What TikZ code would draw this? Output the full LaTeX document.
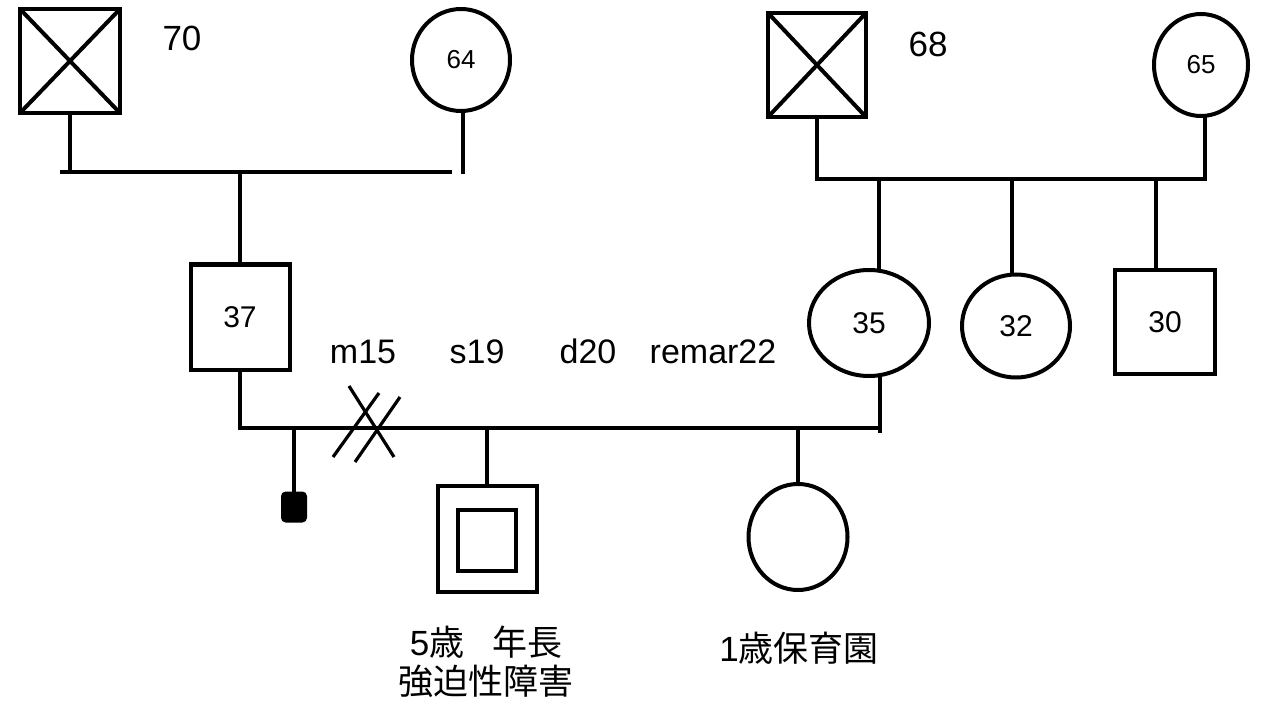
\documentclass[tikz,border=0pt]{standalone}
\usepackage{fontspec}
\setmainfont{Liberation Sans}
\newfontfamily\cjk{Noto Sans CJK JP}
\usetikzlibrary{positioning,calc,shapes.geometric}

\begin{document}
\begin{tikzpicture}[x=1pt, y=-1pt, line width=4pt, every node/.style={font=\fontsize{30}{34}\selectfont}]
  \tikzstyle{male}=[draw, rectangle, inner sep=0pt, outer sep=0pt]
  \tikzstyle{female}=[draw, ellipse, inner sep=0pt, outer sep=0pt]
  \tikzstyle{age}=[font=\fontsize{35}{40}\selectfont]
  \tikzstyle{event}=[font=\fontsize{34}{38}\selectfont, anchor=base]
  \tikzstyle{note}=[font=\fontsize{35}{39}\selectfont, align=center]
  \useasboundingbox (0,0) rectangle (1268,711);
  % father's parents
  \node[male, minimum width=100pt, minimum height=104pt] (gfa) at (70,61) {};
  \draw (gfa.north west) -- (gfa.south east) (gfa.north east) -- (gfa.south west);
  \node[age] (agefa) at (182,38) {70};
  \node[female, minimum width=98pt, minimum height=102pt, font=\fontsize{26}{30}\selectfont] (gma) at (461,60) {64};
  \coordinate (mla) at (60,172);
  \coordinate (mra) at (452,172);
  \draw (mla) -- (mra);
  \draw (gfa.south) -- (gfa.south |- mla);
  \draw ($(gma.south)+(2,0)$) -- ($(gma.south |- mra)+(2,2)$);
  % mother's parents
  \node[male, minimum width=98pt, minimum height=104pt] (gfb) at (817,65) {};
  \draw (gfb.north west) -- (gfb.south east) (gfb.north east) -- (gfb.south west);
  \node[age] (agefb) at (928,44) {68};
  \node[female, minimum width=94pt, minimum height=102pt, font=\fontsize{26}{30}\selectfont] (gmb) at (1201,65) {65};
  \coordinate (mlb) at (817,179);
  \coordinate (mrb) at (1205,179);
  \draw (gfb.south) -- (mlb) -- (mrb) -- (mrb |- gmb.south);
  % parents generation
  \node[male, minimum width=99pt, minimum height=105pt] (father) at (240,317) {37};
  \node[female, minimum width=120pt, minimum height=106pt] (mother) at (869,323) {35};
  \node[female, minimum width=108pt, minimum height=103pt] (aunt) at (1016,326) {32};
  \node[male, minimum width=100pt, minimum height=104pt] (uncle) at (1165,322) {30};
  \draw (father.north |- mla) -- (father.north);
  \coordinate (cb1) at (879,179);
  \coordinate (cb2) at (1012,179);
  \coordinate (cb3) at (1156,179);
  \draw (cb1) -- (cb1 |- mother.north);
  \draw (cb2) -- (cb2 |- aunt.north);
  \draw (cb3) -- (cb3 |- uncle.north);
  % marriage line and events
  \coordinate (mlc) at (240,428);
  \coordinate (mrc) at (880,428);
  \draw (father.south) -- (mlc) -- (mrc);
  \draw (mrc |- mother.south) -- ($(mrc)+(0,5)$);
  \node[event] (ev1) at (363,363) {m15};
  \node[event] (ev2) at (477,363) {s19};
  \node[event] (ev3) at (588,363) {d20};
  \node[event] (ev4) at (713,363) {remar22};
  % divorce marks
  \coordinate (div) at (367,428);
  \draw[line width=3.2pt] ($(div)+(-18,-42)$) -- ($(div)+(27,29)$);
  \draw[line width=3.2pt] ($(div)+(-34,29)$) -- ($(div)+(12,-35)$);
  \draw[line width=3.2pt] ($(div)+(-12,34)$) -- ($(div)+(33,-31)$);
  % children
  \node[draw, fill=black, rounded corners=3pt, inner sep=0pt, minimum width=22pt, minimum height=27pt] (miss) at (294,507) {};
  \node[male, minimum width=99pt, minimum height=106pt] (son) at (487,539) {};
  \node[male, minimum width=58pt, minimum height=61pt] (soninner) at (487,540) {};
  \node[female, minimum width=99pt, minimum height=106pt] (daughter) at (798,537) {};
  \draw (miss.north |- mlc) -- (miss.north);
  \draw (son.north |- mlc) -- (son.north);
  \draw (daughter.north |- mlc) -- (daughter.north);
  \node[note] (sonnote) at (486,662) {5{\cjk 歳\hspace{0.8em}年長}\\{\cjk 強迫性障害}};
  \node[note] (daunote) at (799,648) {1{\cjk 歳保育園}};
\end{tikzpicture}
\end{document}
